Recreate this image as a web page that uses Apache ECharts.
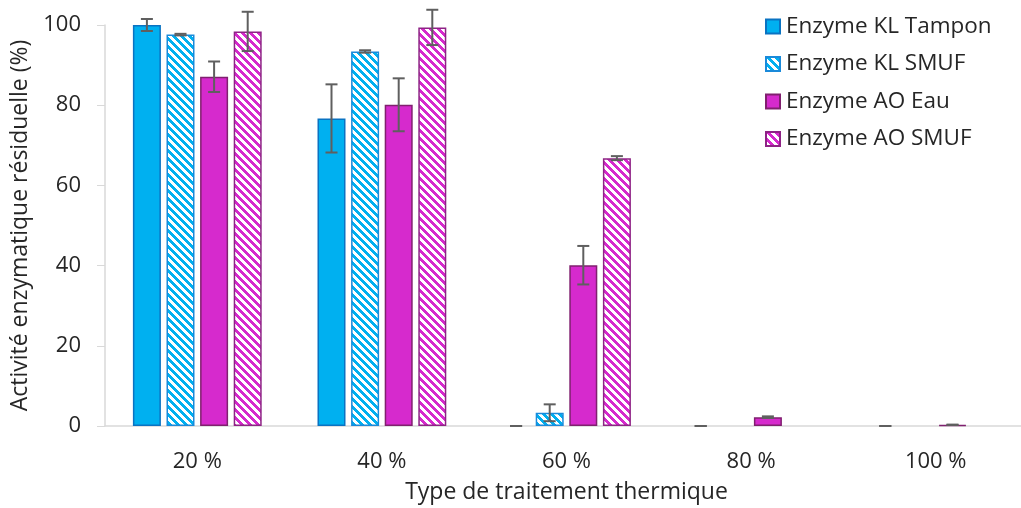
<!DOCTYPE html>
<html><head><meta charset="utf-8">
<script src="https://cdn.jsdelivr.net/npm/echarts@6/dist/echarts.min.js"></script>
<style>html,body{margin:0;padding:0;background:#fff}#c{width:1021px;height:508px}</style>
</head><body><div id="c"></div>
<script>
const categories = ['20 %', '40 %', '60 %', '80 %', '100 %'];
const seriesNames = ['Enzyme KL Tampon', 'Enzyme KL SMUF', 'Enzyme AO Eau', 'Enzyme AO SMUF'];
const klTampon = [100, 76.7, 0, 0, 0];
const klTamponErr = [1.5, 8.5, 0, 0, 0];
const klSmuf = [97.6, 93.4, 3.3, null, null];
const klSmufErr = [0.2, 0.3, 2.1, null, null];
const aoEau = [87.1, 80.1, 40.1, 2.2, 0.3];
const aoEauErr = [3.8, 6.6, 4.8, 0.2, 0.05];
const aoSmuf = [98.4, 99.4, 66.8, null, null];
const aoSmufErr = [4.9, 4.4, 0.5, null, null];
const yTicks = [0, 20, 40, 60, 80, 100];

const FONT = 'Open Sans';
const BAR_W = 28, BAR_GAP = 5.6;

function stripes(col) {
  const n = 8, cv = document.createElement('canvas');
  cv.width = n; cv.height = n;
  const ctx = cv.getContext('2d');
  ctx.fillStyle = '#ffffff'; ctx.fillRect(0, 0, n, n);
  ctx.fillStyle = col;
  for (let x = 0; x < n; x++) for (let y = 0; y < n; y++) {
    if (((x - y) % n + n) % n < 4) ctx.fillRect(x, y, 1, 1);
  }
  return { image: cv, repeat: 'repeat' };
}

const blue = '#00B0F0', magenta = '#D62ACD';
const styles = [
  { color: blue, borderColor: '#0A73C2', borderWidth: 1.5 },
  { color: stripes(blue), borderColor: '#1A8ADA', borderWidth: 1.5 },
  { color: magenta, borderColor: '#80206F', borderWidth: 1.5 },
  { color: stripes(magenta), borderColor: '#8E2385', borderWidth: 1.5 }
];
const values = [klTampon, klSmuf, aoEau, aoSmuf];
const errs = [klTamponErr, klSmufErr, aoEauErr, aoSmufErr];

const series = [];
values.forEach((v, i) => {
  series.push({
    name: seriesNames[i], type: 'bar',
    data: v.map(x => (x === 0 ? null : x)),
    barWidth: BAR_W, barGap: (BAR_GAP / BAR_W * 100) + '%',
    itemStyle: styles[i], emphasis: { disabled: true }, z: 2
  });
});
values.forEach((v, i) => {
  const data = [];
  v.forEach((val, k) => { if (val !== null) data.push([k, val, errs[i][k]]); });
  series.push({
    type: 'custom', name: 'err' + i, z: 5, silent: true,
    data: data,
    renderItem: function (params, api) {
      const x = api.value(0), y = api.value(1), e = api.value(2);
      const total = 4 * BAR_W + 3 * BAR_GAP;
      const off = -total / 2 + BAR_W / 2 + i * (BAR_W + BAR_GAP);
      const hi = api.coord([x, y + e]);
      const lo = api.coord([x, y - e]);
      const cx = hi[0] + off;
      const cap = 6;
      const st = { stroke: '#5F5F5F', lineWidth: 2 };
      return { type: 'group', children: [
        { type: 'line', shape: { x1: cx, y1: hi[1], x2: cx, y2: lo[1] }, style: st },
        { type: 'line', shape: { x1: cx - cap, y1: hi[1], x2: cx + cap, y2: hi[1] }, style: st },
        { type: 'line', shape: { x1: cx - cap, y1: lo[1], x2: cx + cap, y2: lo[1] }, style: st }
      ] };
    }
  });
});

const chart = echarts.init(document.getElementById('c'), null, { renderer: 'canvas' });
chart.setOption({
  animation: false,
  backgroundColor: '#ffffff',
  textStyle: { fontFamily: FONT },
  grid: { left: 105, right: -7, top: 25, bottom: 82, containLabel: false, outerBoundsMode: 'none' },
  legend: {
    data: seriesNames, orient: 'vertical', left: 760, top: 10,
    itemWidth: 14, itemHeight: 14, itemGap: 14.5,
    textStyle: { fontFamily: FONT, fontSize: 22.5, lineHeight: 22, color: '#262626', padding: [0, 0, 0, 1] },
    icon: 'rect'
  },
  xAxis: {
    type: 'category', data: categories,
    axisLine: { lineStyle: { color: '#D9D9D9', width: 1.5 } },
    axisTick: { show: false },
    axisLabel: { fontFamily: FONT, fontSize: 22, color: '#262626', margin: 25 },
    name: 'Type de traitement thermique', nameLocation: 'middle', nameGap: 55,
    nameTextStyle: { fontFamily: FONT, fontSize: 23, color: '#262626' }
  },
  yAxis: {
    type: 'value', min: 0, max: 100, interval: 20,
    axisLine: { show: true, lineStyle: { color: '#D9D9D9', width: 1.5 } },
    axisTick: { show: true, length: 8, lineStyle: { color: '#D9D9D9' } },
    splitLine: { show: false },
    axisLabel: { fontFamily: FONT, fontSize: 22, color: '#262626', margin: 24,
      formatter: v => yTicks.includes(v) ? String(v) : '' },
    name: 'Activité enzymatique résiduelle (%)', nameLocation: 'middle', nameGap: 72,
    nameTextStyle: { fontFamily: FONT, fontSize: 23, color: '#262626' }
  },
  series: series
});
</script></body></html>
